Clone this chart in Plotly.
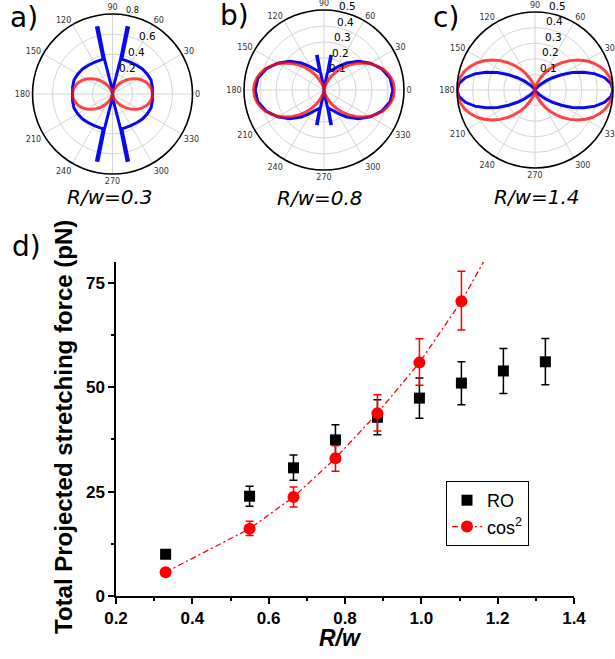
import plotly.graph_objects as go

W, H = 615, 659

# ---------------- main chart (d) data ----------------
rw = [0.33, 0.55, 0.665, 0.775, 0.885, 0.995, 1.105, 1.215, 1.325]
ro_force = [10.0, 23.9, 30.7, 37.4, 42.8, 47.4, 51.0, 53.9, 56.1]
ro_err_plus = [0.6, 2.4, 3.1, 3.6, 4.2, 4.8, 5.1, 5.4, 5.6]
ro_err_minus = [0.6, 2.4, 3.0, 3.8, 4.2, 4.8, 5.2, 5.4, 5.5]

cos2_rw = [0.33, 0.55, 0.665, 0.775, 0.885, 0.995, 1.105]
cos2_force = [5.7, 16.1, 23.7, 33.0, 43.8, 55.9, 70.6]
cos2_err_plus = [0.5, 1.8, 2.4, 3.0, 4.4, 5.7, 7.2]
cos2_err_minus = [0.5, 1.6, 2.4, 3.1, 4.3, 5.4, 6.9]

fit_ext_rw = [1.105, 1.172]
fit_ext_force = [70.6, 81.5]

x_ticks = [0.2, 0.4, 0.6, 0.8, 1.0, 1.2, 1.4]
y_ticks = [0, 25, 50, 75]

# ---------------- polar (a, b, c) data: first quadrant, degrees ----------------
q_theta = [0, 5, 10, 15, 20, 25, 30, 35, 40, 45, 50, 55, 60, 65, 70, 75, 80, 85, 90]

a_red_r = [0.40, 0.397, 0.388, 0.373, 0.353, 0.329, 0.30, 0.268, 0.235, 0.20,
           0.165, 0.132, 0.10, 0.071, 0.047, 0.027, 0.012, 0.003, 0.0]
a_blue_theta = [0, 10, 20, 30, 40, 50, 60, 70, 75, 76.5, 77.8, 77, 78, 82, 90]
a_blue_r = [0.40, 0.405, 0.41, 0.40, 0.39, 0.375, 0.365, 0.36, 0.36, 0.68, 0.68,
            0.36, 0.20, 0.08, 0.0]

b_red_r = [0.44, 0.437, 0.427, 0.411, 0.389, 0.361, 0.33, 0.295, 0.258, 0.22,
           0.182, 0.145, 0.11, 0.079, 0.051, 0.029, 0.013, 0.003, 0.0]
b_blue_theta = [0, 10, 20, 30, 40, 50, 55, 60, 65, 70, 75, 77, 77.8, 79, 78.5, 80, 84, 90]
b_blue_r = [0.43, 0.42, 0.385, 0.335, 0.28, 0.22, 0.19, 0.165, 0.145, 0.13, 0.12,
            0.118, 0.215, 0.215, 0.118, 0.06, 0.025, 0.0]

c_red_r = [0.50, 0.496, 0.485, 0.467, 0.442, 0.411, 0.375, 0.336, 0.293, 0.25,
           0.207, 0.165, 0.125, 0.089, 0.059, 0.034, 0.015, 0.004, 0.0]
c_blue_r = [0.50, 0.488, 0.453, 0.399, 0.334, 0.264, 0.196, 0.137, 0.088, 0.053,
            0.028, 0.013, 0.0055, 0.002, 0.0005, 0.0, 0.0, 0.0, 0.0]

angle_ticks = list(range(0, 360, 30))
a_rticks = [0.2, 0.4, 0.6, 0.8]
bc_rticks = [0.1, 0.2, 0.3, 0.4, 0.5]
captions = ["R/w=0.3", "R/w=0.8", "R/w=1.4"]
panel_labels = ["a)", "b)", "c)", "d)"]


def full_loop(th, r):
    """Mirror a first-quadrant trace into the other three quadrants."""
    t2 = [180 - v for v in reversed(th)]
    r2 = list(reversed(r))
    t3 = [180 + v for v in th]
    t4 = [360 - v for v in reversed(th)]
    return list(th) + t2 + t3 + t4, list(r) + r2 + list(r) + r2


def px_x(p):
    return p / W


def px_y(p):
    return 1 - p / H


RED = "rgba(255,15,15,0.78)"
BLUE = "#0a0af0"

fig = go.Figure()

polar_sets = [
    ("polar", a_blue_theta, a_blue_r, q_theta, a_red_r),
    ("polar2", b_blue_theta, b_blue_r, q_theta, b_red_r),
    ("polar3", q_theta, c_blue_r, q_theta, c_red_r),
]
for sp, bt, br, rt, rr in polar_sets:
    t, r = full_loop(bt, br)
    fig.add_trace(go.Scatterpolar(theta=t, r=r, mode="lines", subplot=sp,
                                  line=dict(color=BLUE, width=3), showlegend=False,
                                  hoverinfo="skip"))
    t, r = full_loop(rt, rr)
    fig.add_trace(go.Scatterpolar(theta=t, r=r, mode="lines", subplot=sp,
                                  line=dict(color=RED, width=3), showlegend=False,
                                  hoverinfo="skip"))

# main chart traces
fig.add_trace(go.Scatter(
    x=rw, y=ro_force, mode="markers", name="RO",
    marker=dict(symbol="square", size=11, color="black"),
    error_y=dict(type="data", array=ro_err_plus, arrayminus=ro_err_minus,
                 color="black", thickness=1.5, width=4),
    xaxis="x", yaxis="y"))
fig.add_trace(go.Scatter(
    x=cos2_rw, y=cos2_force, mode="lines+markers", name="cos<sup>2</sup>",
    marker=dict(symbol="circle", size=12, color="#ff0000"),
    line=dict(color="#ff0000", width=1.3, dash="6px,3px,2px,3px"),
    error_y=dict(type="data", array=cos2_err_plus, arrayminus=cos2_err_minus,
                 color="#ff0000", thickness=1.5, width=4),
    xaxis="x", yaxis="y"))
fig.add_trace(go.Scatter(
    x=fit_ext_rw, y=fit_ext_force, mode="lines", showlegend=False,
    line=dict(color="#ff0000", width=1.3, dash="6px,3px,2px,3px"),
    xaxis="x", yaxis="y", hoverinfo="skip"))


def polar_layout(cx, cy, rad, rmax, rticks, ang_labels):
    return dict(
        domain=dict(x=[px_x(cx - rad), px_x(cx + rad)],
                    y=[px_y(cy + rad), px_y(cy - rad)]),
        bgcolor="white",
        radialaxis=dict(range=[0, rmax], tickmode="array", tickvals=rticks,
                        showticklabels=False, showline=False, ticks="",
                        gridcolor="#d4d4d4", gridwidth=0.8),
        angularaxis=dict(rotation=0, direction="counterclockwise",
                         tickmode="array", tickvals=angle_ticks,
                         ticktext=ang_labels,
                         tickfont=dict(family="DejaVu Sans", size=8, color="#333333"),
                         ticks="", showline=True, linecolor="black", linewidth=1.6,
                         gridcolor="#d4d4d4", gridwidth=0.8),
    )


full_ang = [str(a) for a in angle_ticks]
c_ang = [""] + full_ang[1:]   # the 0 label of panel c falls off the page

tickfont_main = dict(family="Liberation Sans", size=17, color="black", weight="bold")

fig.update_layout(
    width=W, height=H, autosize=False,
    margin=dict(l=0, r=0, t=0, b=0, autoexpand=False),
    paper_bgcolor="white", plot_bgcolor="white",
    polar=polar_layout(112.5, 94, 80, 0.8, a_rticks[:3], full_ang),
    polar2=polar_layout(324, 90, 80, 0.5, bc_rticks[:4], full_ang),
    polar3=polar_layout(535, 90, 78, 0.5, bc_rticks[:4], c_ang),
    xaxis=dict(domain=[px_x(116), px_x(574)], range=[0.2, 1.4],
               tickmode="array", tickvals=x_ticks,
               ticktext=[f"{v:.1f}" for v in x_ticks],
               ticks="outside", ticklen=6, tickwidth=1.5, tickcolor="black",
               showline=True, linewidth=1.5, linecolor="black",
               showgrid=False, zeroline=False, tickfont=tickfont_main,
               minor=dict(dtick=0.1, tick0=0.2, ticks="outside", ticklen=3,
                          tickwidth=1.5, tickcolor="black", showgrid=False),
               anchor="y"),
    yaxis=dict(domain=[px_y(596), px_y(262)], range=[0, 80],
               tickmode="array", tickvals=y_ticks,
               ticks="outside", ticklen=6, tickwidth=1.5, tickcolor="black",
               showline=True, linewidth=1.5, linecolor="black",
               showgrid=False, zeroline=False, tickfont=tickfont_main,
               minor=dict(dtick=12.5, tick0=0, ticks="outside", ticklen=3,
                          tickwidth=1.5, tickcolor="black", showgrid=False),
               anchor="x"),
    legend=dict(x=px_x(446), y=px_y(481), xanchor="left", yanchor="top",
                bordercolor="black", borderwidth=1, bgcolor="white",
                font=dict(family="Liberation Sans", size=18, color="black"),
                tracegroupgap=0, itemwidth=30),
    showlegend=True,
)

annotations = []
# panel letters
for txt, (x, y) in zip(panel_labels, [(8, 18), (218, 16), (431, 18), (10, 246)]):
    annotations.append(dict(text=txt, x=px_x(x), y=px_y(y), xref="paper", yref="paper",
                            xanchor="left", yanchor="middle", showarrow=False,
                            font=dict(family="DejaVu Sans", size=28, color="black")))
# captions
for txt, (x, y) in zip(captions, [(110, 197), (320, 198), (537, 197)]):
    annotations.append(dict(text=f"<i>{txt}</i>", x=px_x(x), y=px_y(y), xref="paper",
                            yref="paper", xanchor="center", yanchor="middle",
                            showarrow=False,
                            font=dict(family="DejaVu Sans", size=20, color="black")))
# radial tick labels of the polar panels (placed as in the reference)
radial_label_pos = {
    "a": [(127, 68), (136.5, 52), (147, 36), (132, 11)],
    "b": [(337, 68), (340, 53), (342, 37), (345, 22), (348, 6)],
    "c": [(548, 68), (550, 52), (553, 37), (554, 21), (557, 6)],
}
for key, ticks in (("a", a_rticks), ("b", bc_rticks), ("c", bc_rticks)):
    for v, (x, y) in zip(ticks, radial_label_pos[key]):
        size = 8 if (key == "a" and v == 0.8) else 10.5
        annotations.append(dict(text=f"{v:.1f}", x=px_x(x), y=px_y(y), xref="paper",
                                yref="paper", showarrow=False, xanchor="center",
                                yanchor="middle",
                                font=dict(family="DejaVu Sans", size=size,
                                          color="black")))
# axis titles of d
annotations.append(dict(text="<b>Total Projected stretching force (pN)</b>",
                        x=px_x(64), y=px_y(427), xref="paper", yref="paper",
                        textangle=-90, showarrow=False, xanchor="center",
                        yanchor="middle",
                        font=dict(family="Liberation Sans", size=24, color="black")))
annotations.append(dict(text="<b><i>R/w</i></b>", x=px_x(340), y=px_y(638),
                        xref="paper", yref="paper", showarrow=False,
                        xanchor="center", yanchor="middle",
                        font=dict(family="Liberation Sans", size=23, color="black")))
fig.update_layout(annotations=annotations)

fig.write_html("out.html")
